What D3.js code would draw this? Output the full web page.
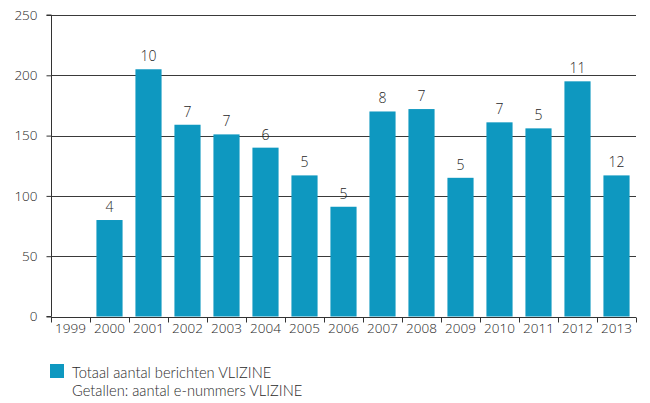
<!DOCTYPE html>
<html>
<head>
<meta charset="utf-8">
<script src="https://cdn.jsdelivr.net/npm/d3@7"></script>
<style>
  html, body { margin: 0; padding: 0; background: #fff; }
  svg { display: block; }
  text { font-family: "Open Sans", Lato, sans-serif; font-weight: 300; fill: #1e1e1e; }
  .legend text { font-family: Lato, "Open Sans", sans-serif; font-weight: 300; fill: #2a2a2a; }
</style>
</head>
<body>
<svg id="chart" width="650" height="403"></svg>
<script>
// Yearly totals of VLIZINE messages and the number of e-issues per year
const years = ["1999","2000","2001","2002","2003","2004","2005","2006","2007","2008","2009","2010","2011","2012","2013"];
const totalMessages = [null, 80, 205, 159, 151, 140, 117, 91, 170, 172, 115, 161, 156, 195, 117];
const eIssues = [null, 4, 10, 7, 7, 6, 5, 5, 8, 7, 5, 7, 5, 11, 12];
const yTicks = [0, 50, 100, 150, 200, 250];
const legendLines = ["Totaal aantal berichten VLIZINE", "Getallen: aantal e-nummers VLIZINE"];

const barColor = "#0e98c0";
const axisFont = 13.5, valueFont = 14, legendFont = 14.7;
const svg = d3.select("#chart");
const margin = { left: 51, right: 14, top: 15, bottom: 87 };
const W = 650, H = 403;

const x = d3.scaleBand().domain(years)
  .range([margin.left, W - margin.right])
  .paddingInner(0.33).paddingOuter(0.165);
const xTicks = d3.scaleBand().domain(years).range([margin.left, W - margin.right]);
const y = d3.scaleLinear().domain([0, 250]).range([H - margin.bottom + 0.5, margin.top]);

// horizontal gridlines
svg.append("g").selectAll("line").data(yTicks.filter(d => d > 0)).join("line")
  .attr("x1", margin.left).attr("x2", W - margin.right)
  .attr("y1", d => Math.round(y(d)) + 0.5).attr("y2", d => Math.round(y(d)) + 0.5)
  .attr("stroke", "#3a3a3a").attr("stroke-width", 1);

// bars
const data = years.map((yr, i) => ({ yr, v: totalMessages[i], n: eIssues[i] })).filter(d => d.v != null);
svg.append("g").selectAll("rect").data(data).join("rect")
  .attr("x", d => x(d.yr)).attr("width", x.bandwidth())
  .attr("y", d => y(d.v)).attr("height", d => y(0) - y(d.v))
  .attr("fill", barColor);

// issue counts above bars
svg.append("g").selectAll("text").data(data).join("text")
  .attr("x", d => x(d.yr) + x.bandwidth() / 2)
  .attr("y", d => y(d.v) - 8)
  .attr("text-anchor", "middle")
  .attr("font-size", valueFont)
  .text(d => d.n);

// y axis
const yAxis = svg.append("g").attr("transform", `translate(${margin.left + 0.5},0)`)
  .call(d3.axisLeft(y).tickValues(yTicks).tickSize(5).tickPadding(9).tickFormat(d3.format("d")));
yAxis.select(".domain").attr("stroke", "#333").attr("d", `M-5,${y(0)}H0V${y(250)}H-5`);
yAxis.selectAll(".tick line").attr("stroke", "#333");
yAxis.selectAll(".tick text").attr("font-size", axisFont).attr("fill", "#1e1e1e")
  .attr("font-family", "'Open Sans', Lato, sans-serif").attr("font-weight", 300);

// x axis with ticks at the category boundaries
const xg = svg.append("g").attr("transform", `translate(0,${Math.round(y(0)) + 0.5})`);
xg.append("line").attr("x1", margin.left).attr("x2", W - margin.right)
  .attr("stroke", "#333");
const bounds = years.map(d => xTicks(d)).concat([W - margin.right]);
xg.selectAll("line.tk").data(bounds).join("line").attr("class", "tk")
  .attr("x1", d => Math.round(d) + 0.5).attr("x2", d => Math.round(d) + 0.5)
  .attr("y1", 0).attr("y2", 5).attr("stroke", "#333");
xg.selectAll("text").data(years).join("text")
  .attr("x", d => xTicks(d) + xTicks.bandwidth() / 2)
  .attr("y", 15)
  .attr("text-anchor", "middle")
  .attr("font-size", axisFont)
  .text(d => d);

// legend: swatch plus a two-line caption
const lg = svg.append("g").attr("class", "legend");
lg.append("rect").attr("x", 50).attr("y", 364).attr("width", 14).attr("height", 14).attr("fill", barColor);
lg.selectAll("text").data(legendLines).join("text")
  .attr("x", 72).attr("y", (d, i) => 378 + i * 18)
  .attr("font-size", legendFont)
  .text(d => d);
</script>
</body>
</html>
